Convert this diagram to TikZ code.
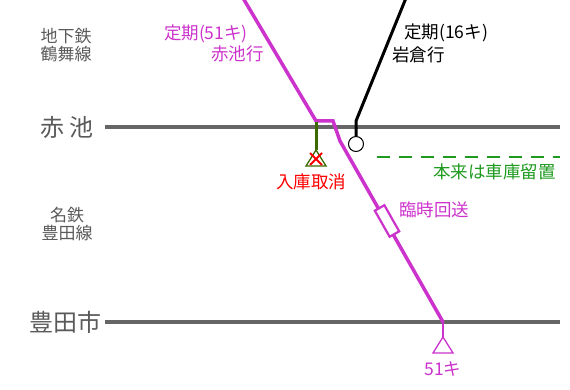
\documentclass[tikz,border=0pt]{standalone}
\usepackage{fontspec}
\setmainfont{Noto Sans CJK JP}
\usetikzlibrary{calc}
\definecolor{mag}{HTML}{CC33CC}
\definecolor{lgray}{HTML}{666666}
\definecolor{tgray}{HTML}{5A5A5A}
\definecolor{dgreen}{HTML}{3A6A00}
\definecolor{lgreen}{HTML}{1E9A1E}
\begin{document}
\begin{tikzpicture}[x=1pt,y=-1pt,
  lbl/.style={inner sep=0pt, font=\fontsize{17.5}{19}\selectfont},
  side/.style={inner sep=0pt, text=tgray, font=\fontsize{17}{18}\selectfont},
  stn/.style={inner sep=0pt, text=tgray, font=\fontsize{24}{26}\selectfont},
  track/.style={line width=4pt, lgray},
  magline/.style={line width=3.5pt, mag, line join=miter},
  tri/.style={fill=white, line width=1.3pt, line join=miter}
]
\useasboundingbox (0,0) rectangle (570,390);
% tracks
\coordinate (a0) at (105,127);
\coordinate (a1) at (560,127);
\coordinate (t0) at (105,322);
\coordinate (t1) at (560,322);
\draw[track] (a0) -- (a1);
\draw[track] (t0) -- (t1);

% side labels
\node[side] (sub1) at (66,36) {地下鉄};
\node[side] (sub2) at (66,54) {鶴舞線};
\node[stn] (akaike) at (67,127) {赤\hspace{5pt}池};
\node[side] (mei1) at (67,215) {名鉄};
\node[side] (mei2) at (67,233) {豊田線};
\node[stn] (toyota) at (65,322) {豊田市};

% magenta train
\coordinate (m0) at (243,-2);
\coordinate (m1) at (316,121);
\coordinate (m2) at (333,121);
\coordinate (m3) at (340,141);
\coordinate (m4) at (443,322);
\draw[magline] (m0) -- (m1) -- (m2) -- (m3) -- (m4);
\coordinate (m5) at (443,337);
\draw[mag, line width=1.5pt] (m4) -- (m5);
\draw[tri, draw=mag] (m5) -- ++(10,16) -- ++(-20,0) -- cycle;
\node[lbl, text=mag] (m51) at (443,369) {51キ};

% rectangle on magenta line
\coordinate (rc) at (387,221);
\node[draw=mag, fill=white, line width=2.2pt, minimum width=30pt, minimum height=11pt, inner sep=0pt, rotate=-60.4] (rbox) at (rc) {};
\node[lbl, text=mag, anchor=west] (kaiso) at (399,210) {臨時回送};

\node[lbl, text=mag, anchor=east] (tk51) at (248,34) {定期(51キ)};
\node[lbl, text=mag, anchor=east] (akk) at (264,54) {赤池行};

% green cancelled
\coordinate (g0) at (316,122);
\coordinate (g1) at (316,150);
\draw[dgreen, line width=3pt] (g0) -- (g1);
\draw[tri, draw=dgreen] (g1) -- ++(10,16) -- ++(-20,0) -- cycle;
\coordinate (xc) at (316,159);
\draw[red, line width=2pt] ($(xc)+(-6,-6)$) -- ($(xc)+(6,6)$);
\draw[red, line width=2pt] ($(xc)+(-6,6)$) -- ($(xc)+(6,-6)$);
\node[lbl, text=red] (nyuko) at (311,182) {入庫取消};

% black train
\coordinate (b0) at (406,-2);
\coordinate (b1) at (356,121);
\coordinate (b2) at (356,136);
\draw[black, line width=3pt] (b0) -- (b1) -- (b2);
\node[draw=black, fill=white, circle, minimum size=15pt, inner sep=0pt, line width=1pt, anchor=north] (bc) at (b2) {};
\node[lbl, anchor=west] (tk16) at (404,33) {定期(16キ)};
\node[lbl, anchor=west] (iwa) at (392,55) {岩倉行};

% dashed green
\coordinate (d0) at (377,157);
\coordinate (d1) at (560,157);
\draw[lgreen, line width=2pt, dash pattern=on 13pt off 9pt] (d0) -- (d1);
\node[lbl, text=lgreen, anchor=east] (honrai) at (556,172) {本来は車庫留置};
\end{tikzpicture}
\end{document}
